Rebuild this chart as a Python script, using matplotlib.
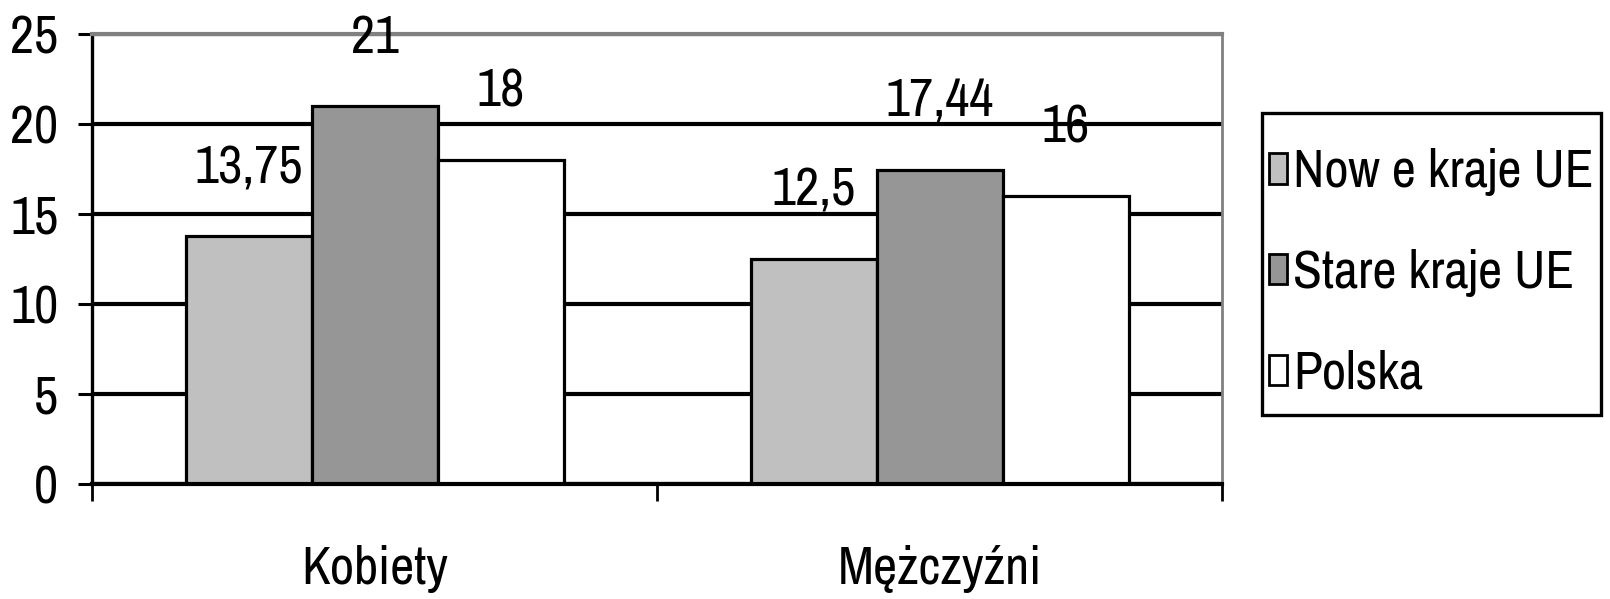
import matplotlib
matplotlib.use("Agg")
import matplotlib.pyplot as plt
from matplotlib.patches import Rectangle
import numpy as np

categories = ["Kobiety", "Mężczyźni"]
series_names = ["Now e kraje UE", "Stare kraje UE", "Polska"]
nowe = [13.75, 12.5]
stare = [21, 17.44]
polska = [18, 16]
value_labels = [["13,75", "12,5"], ["21", "17,44"], ["18", "16"]]
yticks = [0, 5, 10, 15, 20, 25]

colors = ["#C0C0C0", "#969696", "#FFFFFF"]

plt.rcParams['font.family'] = ['Archivo Narrow', 'Roboto Condensed', 'DejaVu Sans']
FS = 38
LFS = 38

fig = plt.figure(figsize=(16.1, 5.99), dpi=100)
ax = fig.add_axes([0.0574, 0.1927, 0.7016, 0.7507])

x = np.arange(len(categories))
w = 0.223
for i, (vals, c) in enumerate(zip([nowe, stare, polska], colors)):
    xs = x + (i - 1) * w
    ax.bar(xs, vals, width=w, color=c, edgecolor="black", linewidth=2.3,
           label=series_names[i], zorder=3)
    for xi, v, lab in zip(xs, vals, value_labels[i]):
        ax.annotate(lab, (xi, v), xytext=(0, 49), textcoords="offset points",
                    ha="center", va="center", fontsize=FS, zorder=5)

ax.set_xlim(-0.5, 1.5)
ax.set_ylim(0, 25)
ax.set_yticks(yticks)
ax.set_yticklabels([str(t) for t in yticks])
ax.yaxis.grid(True, color="black", linewidth=3.0, zorder=1)
ax.set_axisbelow(True)

ax.set_xticks(x)
ax.set_xticklabels(categories)
ax.set_xticks([-0.5, 0.5, 1.5], minor=True)
ax.tick_params(axis="x", which="major", length=0, pad=44, labelsize=FS)
ax.tick_params(axis="x", which="minor", length=12, width=2, direction="out")
ax.tick_params(axis="y", length=10, width=2.2, pad=14.5, labelsize=FS)

ax.spines["left"].set_linewidth(2.4)
ax.spines["bottom"].set_linewidth(3)
ax.spines["bottom"].set_zorder(4)
ax.spines["top"].set_color("#808080")
ax.spines["top"].set_linewidth(3)
ax.spines["right"].set_color("#808080")
ax.spines["right"].set_linewidth(2)

# legend frame drawn separately
fig.patches.append(Rectangle((1262 / 1610, 1 - 415 / 599), 339 / 1610, 302 / 599,
                             transform=fig.transFigure, fill=False,
                             edgecolor="black", linewidth=2.4, zorder=5))
leg = ax.legend(loc="center left", bbox_to_anchor=(1269 / 1610, 1 - 273 / 599),
                bbox_transform=fig.transFigure, fontsize=LFS, frameon=False,
                handlelength=0.35, handleheight=0.5, handletextpad=0.1,
                labelspacing=1.0, borderpad=0, borderaxespad=0)
for p in leg.get_patches():
    p.set_linewidth(2.0)

fig.savefig("out.png", dpi=100)
